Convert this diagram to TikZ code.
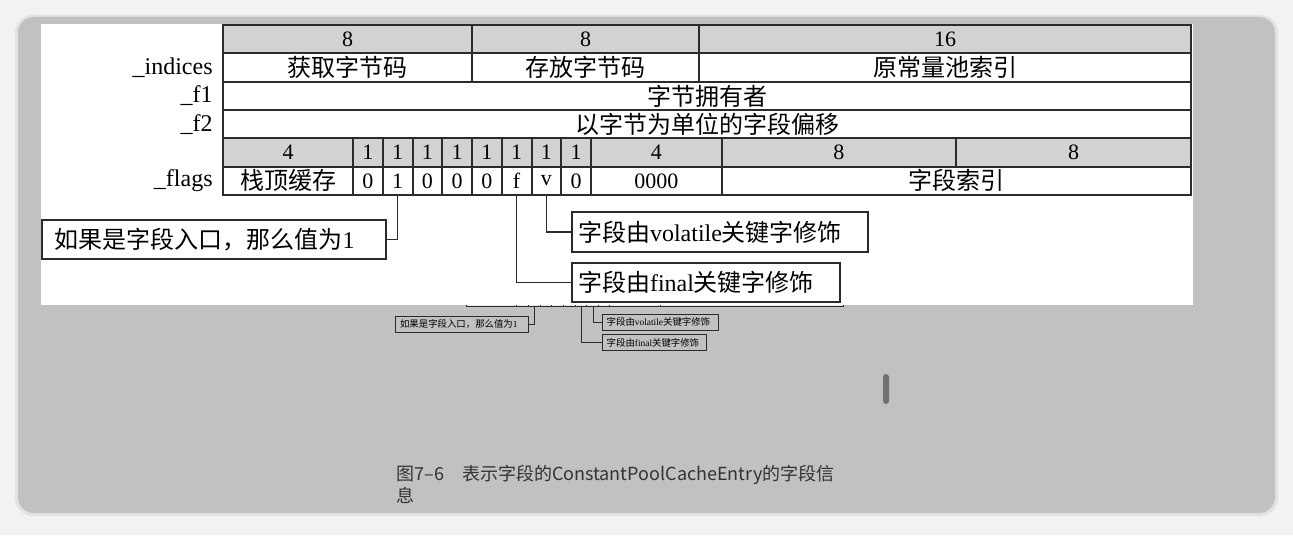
\documentclass[tikz,border=0pt]{standalone}
\usepackage{fontspec}
\setmainfont{Liberation Serif}
\newfontfamily\cjk{Noto Sans CJK SC}
\usepackage{tikz}
\definecolor{pagebg}{HTML}{F2F2F2}
\definecolor{shadc}{HTML}{E2E2E2}
\definecolor{cardbg}{HTML}{C1C1C1}
\definecolor{linec}{HTML}{2B2B2B}
\definecolor{headc}{HTML}{D2D2D2}
\definecolor{stripc}{HTML}{E4E4E4}
\definecolor{capc}{HTML}{333333}
\definecolor{barc}{HTML}{707070}

\begin{document}
\begin{tikzpicture}[x=0.5pt, y=-0.5pt,
  cell/.style={draw=linec, line width=1pt, minimum height=14.17pt,
               inner sep=0pt, outer sep=0pt, anchor=north west,
               font=\fontsize{11}{12}\selectfont},
  head/.style={cell, fill=headc},
  cn/.style={font=\cjk\fontsize{12}{14}\selectfont},
  lbl/.style={anchor=east, inner sep=0pt, font=\fontsize{12}{14}\selectfont},
  tagbox/.style={draw=linec, line width=1pt, fill=white, minimum height=19.7pt,
                 align=left, inner ysep=0pt, font=\cjk\fontsize{12}{14}\selectfont},
  minibox/.style={draw=linec, line width=0.5pt, minimum height=8pt,
                  align=left, inner ysep=0pt, font=\cjk\fontsize{4.7}{5.5}\selectfont},
  wire/.style={draw=linec, line width=0.75pt},
  thinline/.style={draw=linec, line width=0.4pt},
  caption/.style={anchor=north west, inner sep=0pt, align=left, text=capc,
                  font=\cjk\fontsize{9}{11}\selectfont},
]
\useasboundingbox (0,0) rectangle (1293,535);
\fill[pagebg] (0,0) rectangle (1293,535);
\fill[shadc, rounded corners=9pt] (15,15) rectangle (1278,516);
\fill[cardbg, rounded corners=8pt] (18,17) rectangle (1275,513);

% small copy below the page
\fill[stripc] (466,304.5) rectangle (843,306.8);
\draw[thinline] (466,304.5) |- (843,306.8) -- (843,304.5);
\foreach \x in {516.3,528,540,551.5,563,575,586.6,598,609.6,660}
  \draw[thinline] (\x,304.5) -- (\x,306.8);
\coordinate (sb1) at (534,306.8);
\coordinate (sb5) at (581.5,306.8);
\coordinate (sb6) at (593,306.8);
\node[minibox, text width=61.6pt, inner xsep=2.5pt] (sentry) at (461.65,324.5) {如果是字段入口，那么值为{\rmfamily 1}};
\node[minibox, text width=53.8pt, inner xsep=2pt] (svol) at (660.5,322) {字段由{\rmfamily volatile}关键字修饰};
\node[minibox, text width=48pt, inner xsep=2pt] (sfin) at (654.7,342.5) {字段由{\rmfamily final}关键字修饰};
\draw[thinline] (sb1) |- (sentry.east);
\draw[thinline] (sb6) |- (svol.west);
\draw[thinline] (sb5) |- (sfin.west);

% page
\fill[white] (41,24) rectangle (1193,304.5);

\node[head, minimum width=124.5pt] (h8a) at (223,25) {8};
\node[head, minimum width=113.5pt] (h8b) at (472,25) {8};
\node[head, minimum width=246pt] (h16) at (699,25) {16};

\node[cell, cn, minimum width=124.5pt] (fetch) at (223,53.33) {获取字节码};
\node[cell, cn, minimum width=113.5pt] (put) at (472,53.33) {存放字节码};
\node[cell, cn, minimum width=246pt] (cpidx) at (699,53.33) {原常量池索引};
\node[cell, cn, minimum width=484pt] (owner) at (223,81.67) {字节拥有者};
\node[cell, cn, minimum width=484pt] (offset) at (223,110) {以字节为单位的字段偏移};

\node[head, minimum width=65pt] (h4a) at (223,138.33) {4};
\foreach \i in {0,...,7}
  \node[head, minimum width=14.875pt] (hb\i) at ({353+29.75*\i},138.33) {1};
\node[head, minimum width=65.35pt] (h4b) at (591,138.33) {4};
\node[head, minimum width=117.15pt] (h8c) at (721.7,138.33) {8};
\node[head, minimum width=117.5pt] (h8d) at (956,138.33) {8};

\node[cell, cn, minimum width=65pt] (tos) at (223,166.67) {栈顶缓存};
\foreach \v [count=\i from 0] in {0,1,0,0,0,f,v,0}
  \node[cell, minimum width=14.875pt] (bit\i) at ({353+29.75*\i},166.67) {\v};
\node[cell, minimum width=65.35pt] (zeros) at (591,166.67) {0000};
\node[cell, cn, minimum width=234.65pt] (fidx) at (721.7,166.67) {字段索引};

\node[lbl] (lind) at (213,67.5) {\_indices};
\node[lbl] (lf1) at (213,95.8) {\_f1};
\node[lbl] (lf2) at (213,124.2) {\_f2};
\node[lbl] (lflags) at (213,180.8) {\_flags};

\node[tagbox, text width=159pt, inner xsep=6.5pt] (entry) at (213.7,239.3) {如果是字段入口，那么值为{\rmfamily 1}};
\node[tagbox, text width=142pt, inner xsep=3.15pt] (vol) at (720,232) {字段由{\rmfamily volatile}关键字修饰};
\node[tagbox, text width=127.85pt, inner xsep=3.15pt] (fin) at (705.85,282.7) {字段由{\rmfamily final}关键字修饰};

\draw[wire] (bit1.south) |- (entry.east);
\draw[wire] (bit6.south) |- (vol.west);
\draw[wire] (bit5.south) |- (fin.west);

\node[caption] (cap) at (396,465) {图7–6\quad 表示字段的ConstantPoolCacheEntry的字段信\\息};
\fill[barc, rounded corners=1.5pt] (883,374) rectangle (889,404);
\end{tikzpicture}
\end{document}
